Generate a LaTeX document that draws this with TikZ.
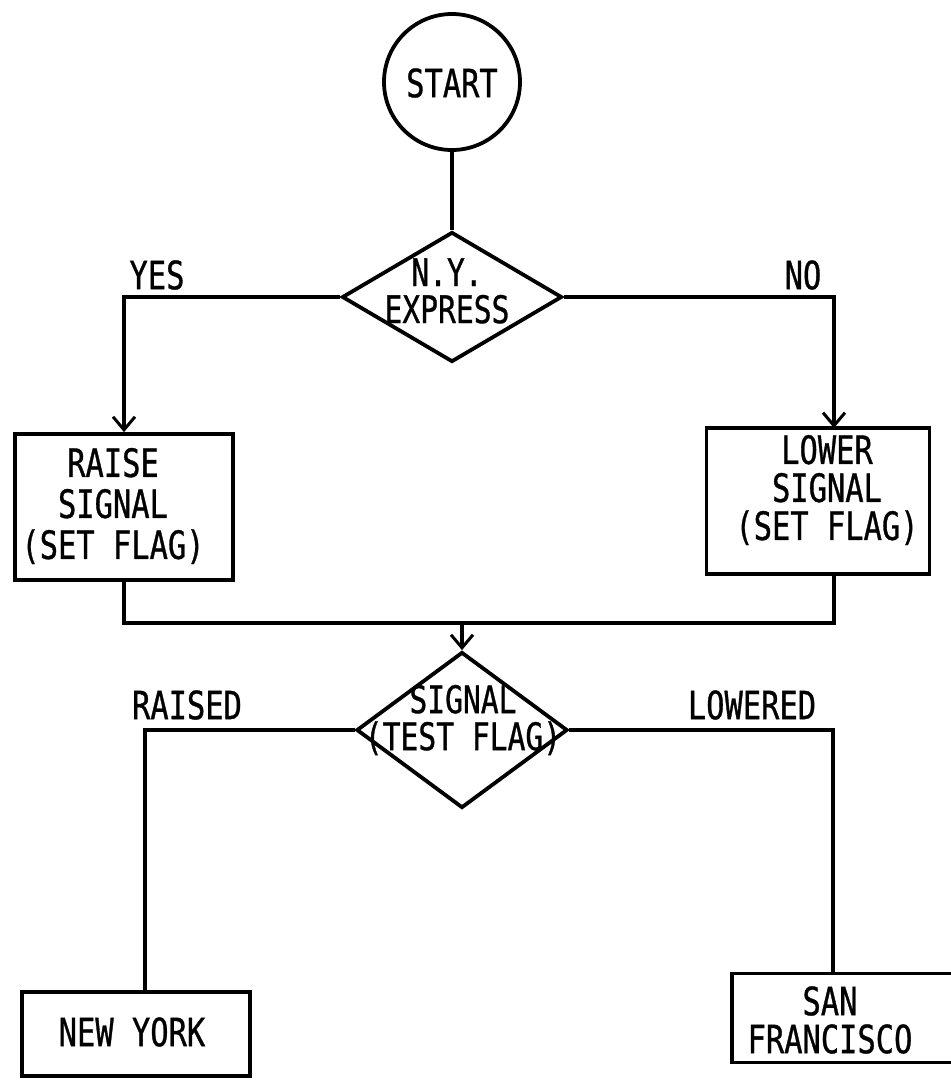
\documentclass[tikz,border=0pt]{standalone}
\usepackage{fontspec}
\setmonofont{DejaVu Sans Mono}[FakeStretch=0.78,FakeBold=0.8]
\usetikzlibrary{shapes.geometric,arrows.meta,calc}
\begin{document}
\begin{tikzpicture}[x=1pt,y=-1pt,
  every node/.style={font=\ttfamily\fontsize{39}{40}\selectfont, inner sep=0pt},
  ln/.style={line width=3.8pt, line join=miter},
  arr/.style={ln, -{Straight Barb[length=13pt,width=22pt,line width=3pt]}},
  proc/.style={draw, line width=3.8pt, rectangle, align=center},
  dec/.style={draw, line width=3.8pt, diamond, inner sep=0pt},
  lbl/.style={font=\ttfamily\fontsize{39}{40}\selectfont},
  dtext/.style={align=center, font=\ttfamily\fontsize{38}{37}\selectfont}]
\useasboundingbox (0,0) rectangle (951,1080);

% start
\node[draw, circle, line width=3.8pt, minimum size=136pt] (start) at (452,82) {};
\node (startt) at (452,83) {START};

% first decision
\node[dec, minimum width=220pt, minimum height=130pt] (d1) at (452,297) {};
\node[dtext] (d1t) at (447,291) {N.Y.\\EXPRESS};

% process boxes
\node[proc, minimum width=218pt, minimum height=146pt] (raise) at (124,507) {};
\node[align=center, font=\ttfamily\fontsize{39}{41}\selectfont] (raiset) at (113,506) {RAISE\\SIGNAL\\(SET FLAG)};
\node[proc, minimum width=223pt, minimum height=146pt] (lower) at (818,501) {};
\node[align=center, font=\ttfamily\fontsize{39}{38}\selectfont] (lowert) at (827,490) {LOWER\\SIGNAL\\(SET FLAG)};

% second decision
\node[dec, minimum width=211pt, minimum height=156pt] (d2) at (462,730) {};
\node[dtext] (d2t) at (463,720) {SIGNAL\\(TEST FLAG)};

% end boxes
\node[proc, minimum width=228pt, minimum height=84pt] (ny) at (136,1034) {};
\node (nyt) at (132,1032) {NEW YORK};
\node[proc, minimum width=228pt, minimum height=89pt] (sf) at (846,1018) {};
\node[align=center, font=\ttfamily\fontsize{39}{38}\selectfont] (sft) at (830,1020) {SAN\\FRANCISCO};

% coordinates
\coordinate (lowin) at (834,428);
\coordinate (lowout) at (834,574);
\coordinate (merge) at (462,623);
\coordinate (nyin) at (145,992);
\coordinate (sfin) at (833,974);

% connectors
\draw[ln] (start.south) -- (d1.north);
\draw[arr] (d1.west) -| (raise.north);
\draw[arr] (d1.east) -| (lowin);
\draw[ln] (raise.south) |- (merge) -| (lowout);
\draw[arr] (merge) -- (d2.north);
\draw[ln] (d2.west) -| (nyin);
\draw[ln] (d2.east) -| (sfin);

% labels
\node[lbl] (yes) at (157,275) {YES};
\node[lbl] (no) at (803,275) {NO};
\node[lbl] (raised) at (187,705) {RAISED};
\node[lbl] (lowered) at (752,705) {LOWERED};
\end{tikzpicture}
\end{document}
